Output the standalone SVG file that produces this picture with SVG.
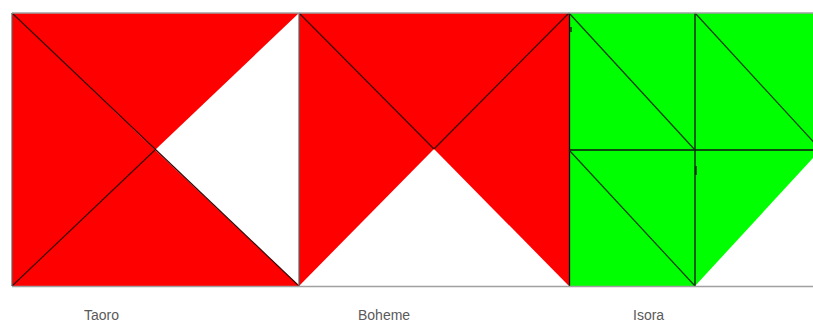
<svg xmlns="http://www.w3.org/2000/svg" width="813" height="322" viewBox="0 0 813 322">
<style>
.red{fill:#ff0000}
.green{fill:#00ff00}
.white{fill:#ffffff}
.diag{stroke:#3a0000;stroke-width:1.2;fill:none}
.gdiag{stroke:#0a3a0a;stroke-width:1.2;fill:none}
.edge{stroke:#606060;stroke-width:1.2;fill:none}
.grid{stroke:#111;stroke-width:1.3;fill:none}
.frame{stroke:#a0a0a0;stroke-width:1.5;fill:none}
.label{font-family:"Liberation Sans",Arial,sans-serif;font-size:14px;fill:#5a5a5a}
</style>
<rect width="813" height="322" fill="#ffffff"/>
<g id="taoro">
<polygon class="red" points="12,13 299,13 155,150"/>
<polygon class="red" points="12,13 155,150 12,286"/>
<polygon class="red" points="12,286 155,150 299,286"/>
<line class="diag" x1="12" y1="13" x2="299" y2="286"/>
<line class="diag" x1="12" y1="286" x2="155" y2="150"/>
<line class="edge" x1="12" y1="13" x2="12" y2="286"/>
<text class="label" x="84" y="320">Taoro</text>
</g>
<g id="boheme">
<polygon class="red" points="299,13 569,13 434,149"/>
<polygon class="red" points="299,13 434,149 299,286"/>
<polygon class="red" points="569,13 434,149 569,286"/>
<line class="diag" x1="299" y1="13" x2="434" y2="149"/>
<line class="diag" x1="569" y1="13" x2="434" y2="149"/>
<line class="edge" x1="299" y1="13" x2="299" y2="286"/>
<text class="label" x="358" y="320">Boheme</text>
</g>
<g id="isora">
<rect class="green" x="569" y="13" width="244" height="273"/>
<polygon class="white" points="695,286 813,158 813,286"/>
<line class="grid" x1="569.5" y1="13" x2="569.5" y2="286"/>
<line class="grid" x1="695" y1="13" x2="695" y2="286"/>
<line class="grid" x1="569" y1="150" x2="813" y2="150"/>
<line class="gdiag" x1="569" y1="13" x2="695" y2="150"/>
<line class="gdiag" x1="695" y1="13" x2="821" y2="150"/>
<line class="gdiag" x1="569" y1="150" x2="695" y2="286"/>
<line class="grid" x1="571" y1="27" x2="571" y2="32" stroke-width="1.5"/>
<line class="grid" x1="696" y1="166" x2="696" y2="175" stroke-width="1.5"/>
<text class="label" x="633" y="320">Isora</text>
</g>
<g id="frame">
<line class="frame" x1="12" y1="13" x2="813" y2="13"/>
<line class="frame" x1="12" y1="286.5" x2="813" y2="286.5"/>
</g>
</svg>
